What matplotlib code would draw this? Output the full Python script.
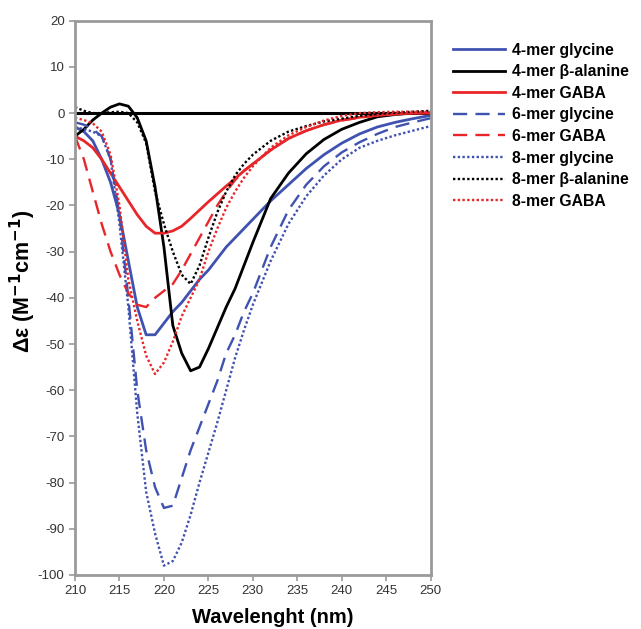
"""
CD spectra of the 4-, 6- and 8-mer oligomers (glycine, beta-alanine, GABA linkers)
"""

import matplotlib
matplotlib.use('Agg')
import matplotlib.pyplot as plt
import numpy as np

plt.rcParams['font.family'] = ['Liberation Sans', 'DejaVu Sans']
plt.rcParams['axes.unicode_minus'] = False

# wavelength grid (nm) on which the values were read
wavelength = [210, 211, 212, 213, 214, 215, 216, 217, 218, 219, 220,
              221, 222, 223, 224, 225, 226, 227, 228, 229, 230,
              232, 234, 236, 238, 240, 242, 244, 246, 248, 250]

gly4 = [-3, -4, -6, -10, -15, -22, -32, -42, -48, -48, -45.5,
        -43, -41, -38.5, -36, -34, -31.5, -29, -27, -25, -23,
        -19, -15.5, -12, -9, -6.5, -4.5, -3, -2, -1.2, -0.5]
bala4 = [-5, -3.5, -1.5, 0, 1.3, 2, 1.5, -1, -6, -16, -29,
         -46, -52, -55.8, -55, -51, -46.5, -42, -38, -33, -28,
         -18.5, -13, -8.8, -5.7, -3.5, -2, -0.8, -0.3, 0, 0]
gaba4 = [-5, -6, -7.5, -10, -13, -16, -19, -22, -24.5, -26, -26,
         -25.5, -24.5, -22.8, -21, -19.2, -17.5, -15.8, -14.2, -12.5, -11,
         -8, -5.5, -3.8, -2.5, -1.5, -0.9, -0.5, -0.2, 0, 0]
gly6 = [-2, -2.5, -3.5, -5, -10, -22, -40, -60, -73, -81, -85.5,
        -85, -79, -73, -68, -63, -58, -52, -48, -43, -39,
        -29, -21, -15.5, -11.5, -8.5, -6.3, -4.5, -3, -2, -1.1]
gaba6 = [-5, -10, -17, -24, -30, -35, -39, -41.5, -42, -40, -38.5,
         -37, -34, -30.5, -27, -23.5, -20, -17, -14.5, -12.5, -11,
         -8, -5.5, -3.8, -2.5, -1.6, -1, -0.5, -0.2, 0, 0]
gly8 = [-3, -3.5, -4, -5, -10, -24, -42, -65, -82, -91, -98,
        -97, -93, -87, -80, -73.5, -67, -60, -53, -47, -41.5,
        -32, -24, -18, -13.5, -10, -7.5, -6, -4.8, -3.8, -2.8]
bala8 = [1.3, 0.5, 0, 0, 0.2, 0.3, 0, -2, -6.5, -17, -24,
         -30, -35, -37, -33, -27, -21.5, -17, -13.5, -11, -9,
         -6, -4, -2.8, -1.8, -1.2, -0.6, -0.2, 0.1, 0.3, 0.5]
gaba8 = [-1, -1.5, -2.2, -4, -9, -20, -36, -45, -52.5, -56.5, -54,
         -49.5, -44, -40, -36, -30, -25, -20.5, -17, -14, -11.5,
         -7.5, -4.8, -3, -1.6, -0.6, 0, 0.2, 0.3, 0.3, 0.3]

labels = ['4-mer glycine', '4-mer β-alanine', '4-mer GABA',
          '6-mer glycine', '6-mer GABA',
          '8-mer glycine', '8-mer β-alanine', '8-mer GABA']

BLUE = '#4052b0'
BLACK = '#000000'
RED = '#e8262a'
GRAY = '#9a9a9a'

series = [
    (gly4, BLUE, '-', 2.0),
    (bala4, BLACK, '-', 2.0),
    (gaba4, RED, '-', 2.0),
    (gly6, BLUE, (0, (6, 3.5)), 1.7),
    (gaba6, RED, (0, (6, 3.5)), 1.7),
    (gly8, BLUE, (0, (1, 1)), 1.7),
    (bala8, BLACK, (0, (1, 1)), 1.7),
    (gaba8, RED, (0, (1, 1)), 1.7),
]

fig = plt.figure(figsize=(6.41, 6.29), dpi=100)
ax = fig.add_axes([0.117, 0.086, 0.555, 0.881])

ax.axhline(0, color='black', linewidth=2.2, zorder=1)

for (vals, color, ls, lw), label in zip(series, labels):
    ax.plot(wavelength, vals, color=color, linestyle=ls, linewidth=lw, label=label)

ax.set_xlim(210, 250)
ax.set_ylim(-100, 20)
ax.set_xticks(np.arange(210, 251, 5))
ax.set_yticks(np.arange(-100, 21, 10))

for spine in ax.spines.values():
    spine.set_color(GRAY)
    spine.set_linewidth(2)
ax.tick_params(direction='out', length=4, width=1.2, color=GRAY,
               labelsize=9.5, labelcolor='#333333')

ax.set_xlabel('Wavelenght (nm)', fontsize=14.5, fontweight='bold')
ax.xaxis.set_label_coords(0.555, -0.06)
ax.set_ylabel('Δε (M$^{\\mathbf{-1}}$cm$^{\\mathbf{-1}}$)', fontsize=15.5,
              fontweight='bold')
ax.yaxis.set_label_coords(-0.105, 0.53)

leg = ax.legend(loc='upper left', bbox_to_anchor=(1.045, 0.972), frameon=False,
                prop={'weight': 'bold', 'size': 11.3}, handlelength=3.3,
                handletextpad=0.45, labelspacing=0.42, borderaxespad=0)

plt.savefig('out.png', dpi=100)
plt.close()
